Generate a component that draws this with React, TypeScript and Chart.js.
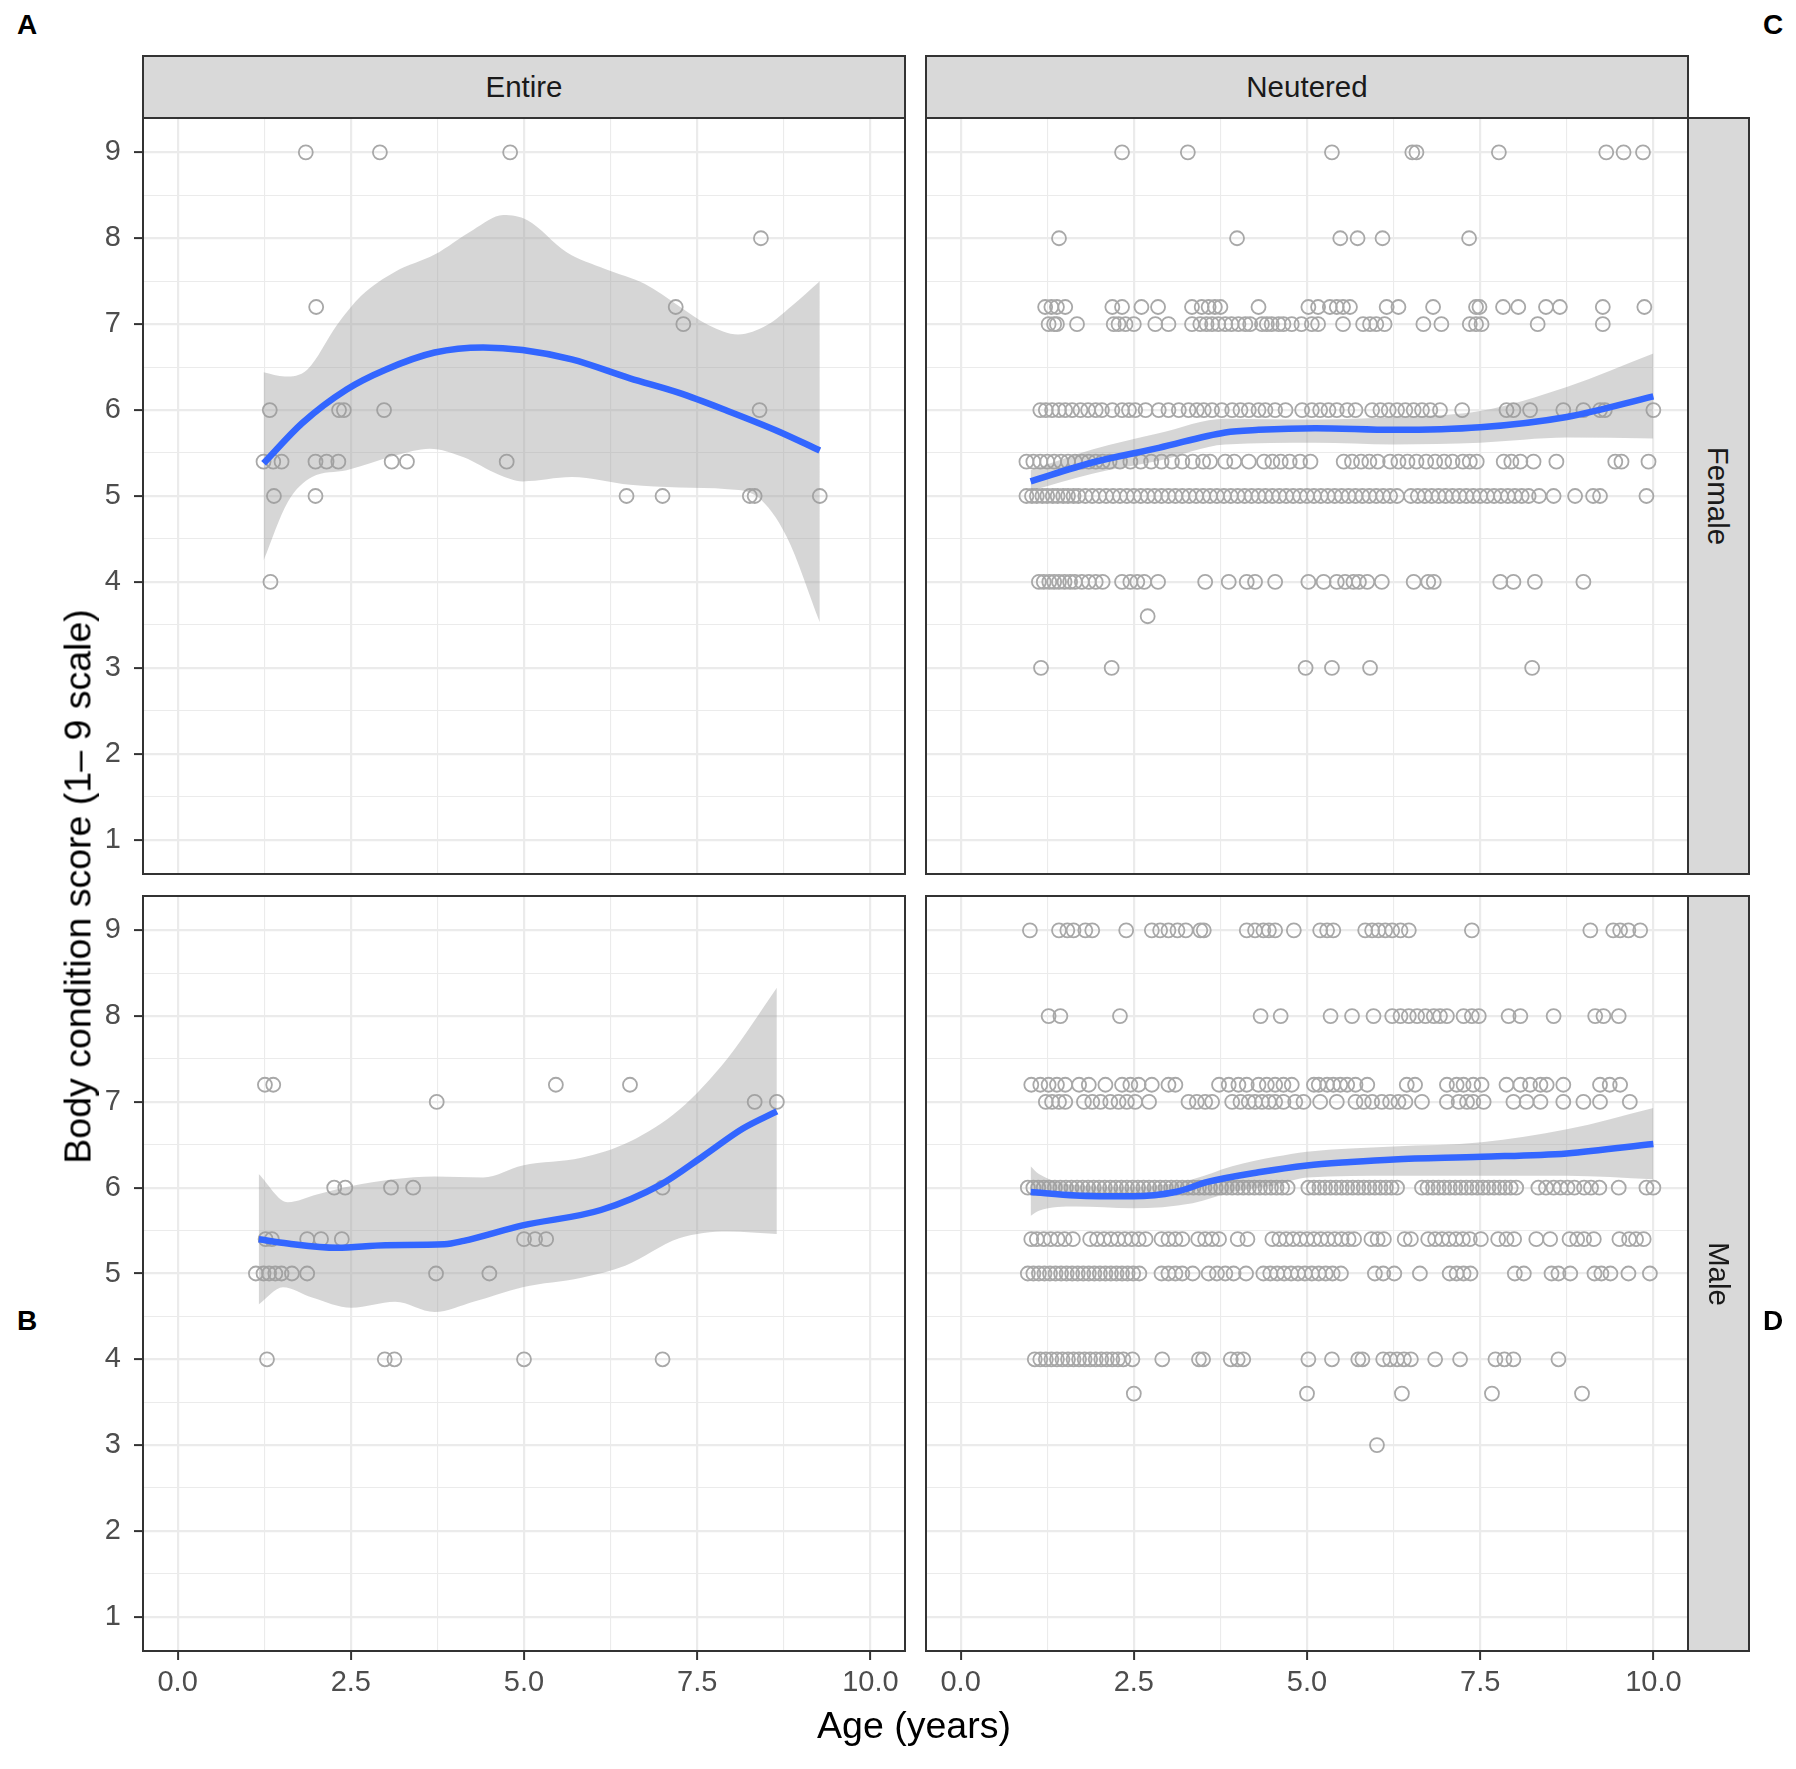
import React, { useEffect, useRef } from 'react';
import { Chart, registerables } from 'chart.js';

Chart.register(...registerables);

const FONT = '"Liberation Sans", Arial, Helvetica, sans-serif';

// facet labels
const columns = ['Entire', 'Neutered'];
const rowLabels = ['Female', 'Male'];

// axis breaks
const xMajor = [0, 2.5, 5, 7.5, 10];
const xMinor = [1.25, 3.75, 6.25, 8.75];
const yMajor = [1, 2, 3, 4, 5, 6, 7, 8, 9];
const yMinor = [1.5, 2.5, 3.5, 4.5, 5.5, 6.5, 7.5, 8.5];

type Row = [number, number[]]; // [score, ages]
type Pt = [number, number]; // [age, score]

// ---- Entire / Female ----
const entireFemalePts: Row[] = [
  [9, [1.85, 2.92, 4.8]],
  [8, [8.42]],
  [7.2, [2.0, 7.19]],
  [7, [7.3]],
  [6, [1.33, 2.33, 2.4, 2.98, 8.4]],
  [5.4, [1.24, 1.38, 1.5, 1.99, 2.15, 2.32, 3.09, 3.31, 4.75]],
  [5, [1.39, 1.99, 6.48, 7.0, 8.26, 8.33, 9.27]],
  [4, [1.34]],
];
const entireFemaleFit: Pt[] = [
  [1.24, 5.38], [1.8, 5.85], [2.44, 6.24], [3.0, 6.47], [3.71, 6.67], [4.41, 6.73], [4.98, 6.7],
  [5.69, 6.59], [6.53, 6.37], [7.24, 6.2], [7.94, 5.99], [8.65, 5.76], [9.27, 5.53],
];
const entireFemaleHi: Pt[] = [
  [1.24, 6.44], [1.55, 6.39], [1.87, 6.47], [2.3, 6.99], [2.65, 7.33], [3.14, 7.61], [3.71, 7.81],
  [4.27, 8.1], [4.7, 8.27], [5.05, 8.21], [5.61, 7.84], [6.18, 7.64], [6.74, 7.47], [7.24, 7.21],
  [7.66, 6.99], [8.09, 6.88], [8.51, 6.99], [8.86, 7.21], [9.27, 7.5],
];
const entireFemaleLo: Pt[] = [
  [1.24, 4.25], [1.59, 4.93], [1.94, 5.22], [2.44, 5.3], [3.14, 5.47], [3.64, 5.55], [4.13, 5.45],
  [4.63, 5.25], [4.98, 5.17], [5.69, 5.22], [6.53, 5.13], [7.24, 5.1], [7.94, 5.08], [8.37, 4.99],
  [8.79, 4.53], [9.27, 3.53],
];

// ---- Neutered / Female ----
const neuteredFemalePts: Row[] = [
  [9, [2.33, 3.28, 5.36, 6.52, 6.58, 7.77, 9.32, 9.57, 9.85]],
  [8, [1.42, 3.99, 5.48, 5.73, 6.09, 7.34]],
  [7.2, [1.22, 1.31, 1.39, 1.51, 2.19, 2.33, 2.61, 2.85, 3.34, 3.48, 3.58, 3.67, 3.75, 4.3, 5.02,
    5.16, 5.33, 5.43, 5.52, 5.62, 6.15, 6.32, 6.82, 7.44, 7.49, 7.83, 8.05, 8.45, 8.65, 9.27, 9.87]],
  [7, [1.27, 1.35, 1.39, 1.68, 2.21, 2.28, 2.38, 2.5, 2.81, 3.0, 3.34, 3.46, 3.55, 3.63, 3.72, 3.82,
    3.91, 4.01, 4.11, 4.18, 4.35, 4.42, 4.49, 4.59, 4.66, 4.78, 4.92, 5.07, 5.16, 5.52, 5.81, 5.91,
    6.0, 6.12, 6.68, 6.94, 7.35, 7.44, 7.52, 8.33, 9.27]],
  [6, [1.15, 1.23, 1.32, 1.42, 1.51, 1.61, 1.73, 1.84, 1.95, 2.04, 2.19, 2.33, 2.43, 2.52, 2.67,
    2.86, 3.0, 3.15, 3.29, 3.41, 3.51, 3.63, 3.77, 3.92, 4.04, 4.16, 4.3, 4.4, 4.54, 4.69, 4.93,
    5.07, 5.19, 5.31, 5.43, 5.58, 5.7, 5.94, 6.06, 6.18, 6.3, 6.42, 6.54, 6.66, 6.78, 6.92, 7.24,
    7.88, 7.98, 8.22, 8.7, 8.99, 9.23, 9.3, 10.0]],
  [5.4, [0.95, 1.05, 1.15, 1.25, 1.35, 1.45, 1.55, 1.65, 1.75, 1.85, 1.95, 2.05, 2.15, 2.3, 2.45,
    2.6, 2.75, 2.9, 3.05, 3.2, 3.35, 3.5, 3.6, 3.82, 3.95, 4.16, 4.38, 4.5, 4.62, 4.75, 4.9, 5.05,
    5.53, 5.65, 5.78, 5.9, 6.02, 6.2, 6.32, 6.45, 6.58, 6.72, 6.85, 6.98, 7.1, 7.25, 7.35, 7.45,
    7.84, 7.95, 8.08, 8.27, 8.6, 9.45, 9.54, 9.93]],
  [5, [0.95, 1.03, 1.1, 1.18, 1.25, 1.33, 1.4, 1.48, 1.55, 1.63, 1.7, 1.8, 1.9, 2.0, 2.1, 2.2, 2.3,
    2.4, 2.5, 2.6, 2.7, 2.8, 2.9, 3.0, 3.1, 3.2, 3.3, 3.4, 3.5, 3.6, 3.7, 3.8, 3.9, 4.0, 4.1, 4.2,
    4.3, 4.4, 4.5, 4.6, 4.7, 4.8, 4.9, 5.0, 5.1, 5.2, 5.3, 5.4, 5.5, 5.6, 5.7, 5.8, 5.9, 6.0, 6.1,
    6.2, 6.3, 6.5, 6.6, 6.7, 6.8, 6.9, 7.0, 7.1, 7.2, 7.3, 7.4, 7.5, 7.6, 7.7, 7.8, 7.9, 8.0, 8.1,
    8.2, 8.35, 8.56, 8.87, 9.13, 9.23, 9.9]],
  [4, [1.13, 1.2, 1.28, 1.35, 1.42, 1.5, 1.58, 1.65, 1.75, 1.85, 1.95, 2.05, 2.33, 2.45, 2.55, 2.65,
    2.85, 3.53, 3.87, 4.13, 4.25, 4.54, 5.02, 5.24, 5.43, 5.55, 5.67, 5.75, 5.87, 6.08, 6.54, 6.75,
    6.83, 7.79, 7.98, 8.29, 8.99]],
  [3.6, [2.7]],
  [3, [1.16, 2.18, 4.98, 5.36, 5.91, 8.25]],
];
const neuteredFemaleFit: Pt[] = [
  [1.01, 5.17], [1.9, 5.39], [2.86, 5.56], [3.82, 5.74], [4.3, 5.77], [5.12, 5.79], [6.25, 5.77],
  [7.5, 5.8], [8.75, 5.92], [10.0, 6.16],
];
const neuteredFemaleHi: Pt[] = [
  [1.01, 5.3], [1.9, 5.54], [2.86, 5.73], [3.82, 5.9], [5.12, 5.89], [6.25, 5.92], [7.5, 5.99],
  [8.75, 6.27], [10.0, 6.66],
];
const neuteredFemaleLo: Pt[] = [
  [1.01, 5.06], [1.9, 5.26], [2.86, 5.41], [3.82, 5.6], [5.12, 5.62], [6.25, 5.6], [7.5, 5.62],
  [8.75, 5.68], [10.0, 5.67],
];

// ---- Entire / Male ----
const entireMalePts: Row[] = [
  [7.2, [1.26, 1.38, 5.46, 6.53]],
  [7, [3.74, 8.33, 8.65]],
  [6, [2.26, 2.42, 3.08, 3.4, 7.0]],
  [5.4, [1.27, 1.36, 1.87, 2.07, 2.37, 5.0, 5.16, 5.32]],
  [5, [1.13, 1.24, 1.32, 1.41, 1.5, 1.65, 1.87, 3.73, 4.5]],
  [4, [1.29, 2.99, 3.13, 5.0, 7.0]],
];
const entireMaleFit: Pt[] = [
  [1.17, 5.4], [1.59, 5.35], [2.3, 5.3], [3.0, 5.33], [3.85, 5.34], [4.13, 5.38], [4.98, 5.56],
  [6.11, 5.74], [6.96, 6.03], [7.59, 6.37], [8.16, 6.69], [8.65, 6.89],
];
const entireMaleHi: Pt[] = [
  [1.17, 6.16], [1.59, 5.83], [2.01, 5.92], [2.51, 6.02], [3.71, 6.13], [4.41, 6.12], [4.98, 6.26],
  [5.83, 6.35], [6.53, 6.54], [7.24, 6.91], [7.94, 7.51], [8.65, 8.33],
];
const entireMaleLo: Pt[] = [
  [1.17, 4.64], [1.52, 4.84], [1.94, 4.72], [2.51, 4.6], [3.14, 4.67], [3.71, 4.55], [4.27, 4.67],
  [4.98, 4.84], [5.83, 4.95], [6.46, 5.09], [7.24, 5.41], [7.94, 5.49], [8.65, 5.46],
];

// ---- Neutered / Male ----
const neuteredMalePts: Row[] = [
  [9, [1.0, 1.42, 1.54, 1.63, 1.8, 1.9, 2.39, 2.76, 2.88, 3.0, 3.13, 3.25, 3.46, 3.51, 4.13, 4.25,
    4.37, 4.45, 4.54, 4.81, 5.19, 5.29, 5.38, 5.84, 5.94, 6.03, 6.13, 6.23, 6.35, 6.47, 7.38, 9.09,
    9.42, 9.52, 9.64, 9.81]],
  [8, [1.27, 1.44, 2.3, 4.33, 4.62, 5.34, 5.65, 5.96, 6.23, 6.35, 6.47, 6.59, 6.71, 6.83, 6.92,
    7.02, 7.26, 7.38, 7.48, 7.91, 8.08, 8.56, 9.16, 9.28, 9.5]],
  [7.2, [1.02, 1.15, 1.27, 1.39, 1.51, 1.71, 1.85, 2.09, 2.33, 2.45, 2.57, 2.76, 3.0, 3.1, 3.73,
    3.87, 4.01, 4.13, 4.3, 4.42, 4.54, 4.66, 4.78, 5.1, 5.17, 5.29, 5.38, 5.48, 5.58, 5.7, 5.87,
    6.44, 6.56, 7.02, 7.16, 7.26, 7.4, 7.52, 7.88, 8.08, 8.22, 8.37, 8.46, 8.7, 9.23, 9.37, 9.52]],
  [7, [1.23, 1.32, 1.42, 1.51, 1.78, 1.9, 2.02, 2.16, 2.28, 2.4, 2.52, 2.72, 3.29, 3.41, 3.53,
    3.63, 3.92, 4.04, 4.16, 4.25, 4.35, 4.45, 4.54, 4.66, 4.83, 4.95, 5.19, 5.43, 5.7, 5.82, 5.94,
    6.08, 6.2, 6.32, 6.42, 6.66, 7.02, 7.19, 7.31, 7.4, 7.55, 7.98, 8.17, 8.37, 8.7, 8.99, 9.23,
    9.66]],
  [6, [0.97, 1.05, 1.12, 1.2, 1.28, 1.36, 1.44, 1.52, 1.6, 1.68, 1.76, 1.84, 1.92, 2.0, 2.08, 2.16,
    2.24, 2.32, 2.4, 2.48, 2.56, 2.64, 2.72, 2.8, 2.88, 2.96, 3.04, 3.12, 3.2, 3.28, 3.36, 3.44,
    3.52, 3.6, 3.68, 3.76, 3.84, 3.92, 4.0, 4.08, 4.16, 4.24, 4.32, 4.4, 4.48, 4.56, 4.64, 4.72,
    5.02, 5.1, 5.18, 5.26, 5.34, 5.42, 5.5, 5.58, 5.66, 5.74, 5.82, 5.9, 5.98, 6.06, 6.14, 6.22,
    6.3, 6.66, 6.74, 6.82, 6.9, 6.98, 7.06, 7.14, 7.22, 7.3, 7.38, 7.46, 7.54, 7.62, 7.7, 7.78,
    7.86, 7.94, 8.02, 8.34, 8.45, 8.56, 8.66, 8.76, 8.86, 9.0, 9.1, 9.22, 9.5, 9.9, 10.0]],
  [5.4, [1.02, 1.1, 1.2, 1.3, 1.4, 1.5, 1.62, 1.87, 1.97, 2.07, 2.17, 2.27, 2.37, 2.47, 2.57, 2.67,
    2.9, 3.0, 3.1, 3.2, 3.43, 3.53, 3.63, 3.73, 4.0, 4.14, 4.5, 4.6, 4.7, 4.8, 4.9, 5.0, 5.1, 5.2,
    5.3, 5.4, 5.5, 5.6, 5.68, 5.93, 6.02, 6.11, 6.41, 6.5, 6.75, 6.85, 6.95, 7.05, 7.15, 7.25,
    7.35, 7.51, 7.76, 7.88, 7.99, 8.31, 8.51, 8.79, 8.9, 9.0, 9.14, 9.51, 9.65, 9.75, 9.86]],
  [5, [0.97, 1.05, 1.13, 1.21, 1.29, 1.37, 1.45, 1.53, 1.61, 1.69, 1.77, 1.85, 1.93, 2.01, 2.09,
    2.17, 2.25, 2.33, 2.41, 2.49, 2.58, 2.9, 3.0, 3.1, 3.2, 3.35, 3.58, 3.7, 3.82, 3.94, 4.12,
    4.37, 4.47, 4.57, 4.67, 4.77, 4.87, 4.97, 5.07, 5.17, 5.27, 5.37, 5.49, 5.98, 6.1, 6.26, 6.63,
    7.06, 7.16, 7.26, 7.36, 8.0, 8.13, 8.53, 8.63, 8.8, 9.15, 9.25, 9.38, 9.64, 9.95]],
  [4, [1.07, 1.15, 1.23, 1.31, 1.39, 1.47, 1.55, 1.63, 1.71, 1.79, 1.87, 1.95, 2.03, 2.11, 2.19,
    2.27, 2.35, 2.48, 2.91, 3.44, 3.5, 3.9, 4.0, 4.08, 5.02, 5.36, 5.74, 5.8, 6.1, 6.2, 6.3, 6.4,
    6.5, 6.85, 7.21, 7.72, 7.85, 7.98, 8.63]],
  [3.6, [2.5, 5.0, 6.37, 7.67, 8.97]],
  [3, [6.01]],
];
const neuteredMaleFit: Pt[] = [
  [1.01, 5.95], [1.66, 5.91], [2.48, 5.9], [3.1, 5.95], [3.58, 6.07], [4.3, 6.18], [5.0, 6.26],
  [5.63, 6.3], [6.25, 6.33], [7.52, 6.36], [8.75, 6.4], [10.0, 6.51],
];
const neuteredMaleHi: Pt[] = [
  [1.01, 6.25], [1.13, 6.16], [1.66, 6.03], [2.48, 6.01], [3.35, 6.1], [3.92, 6.25], [4.54, 6.36],
  [5.0, 6.42], [6.25, 6.48], [7.52, 6.53], [8.75, 6.68], [10.0, 6.93],
];
const neuteredMaleLo: Pt[] = [
  [1.01, 5.67], [1.13, 5.73], [1.66, 5.78], [2.48, 5.76], [3.35, 5.82], [3.92, 5.95], [4.54, 6.03],
  [5.0, 6.12], [6.25, 6.14], [7.52, 6.14], [8.75, 6.14], [10.0, 6.1],
];

// panel rectangles (plot area, page pixels)
const colLeft = [143, 926];
const colRight = [905, 1688];
const rowTop = [118, 896];
const rowBottom = [874, 1651];
const Y_AXIS_W = 103;
const X_AXIS_H = 60;

const panelBorder = {
  id: 'panelBorder',
  afterDraw(chart: Chart) {
    const { ctx, chartArea: a } = chart;
    ctx.save();
    ctx.strokeStyle = '#333333';
    ctx.lineWidth = 2;
    ctx.strokeRect(a.left, a.top, a.right - a.left, a.bottom - a.top);
    ctx.restore();
  },
};

interface PanelProps {
  rows: Row[];
  fit: Pt[];
  lo: Pt[];
  hi: Pt[];
  col: number;
  row: number;
}

function Panel({ rows, fit, lo, hi, col, row }: PanelProps) {
  const chartRef = useRef<HTMLCanvasElement>(null);
  const showY = col === 0;
  const showX = row === 1;

  const left = showY ? colLeft[col] - Y_AXIS_W : colLeft[col] - 2;
  const top = rowTop[row] - 2;
  const width = colRight[col] + 2 - left;
  const height = rowBottom[row] - top + (showX ? X_AXIS_H : 2);

  useEffect(() => {
    if (!chartRef.current) return;
    const ctx = chartRef.current.getContext('2d');
    if (!ctx) return;

    const toXY = (arr: Pt[]) => arr.map(([x, y]) => ({ x, y }));
    const points = rows.flatMap(([score, ages]) => ages.map((a) => ({ x: a, y: score })));
    const xTicks = [...xMajor, ...xMinor].sort((a, b) => a - b);
    const yTicks = [...yMajor, ...yMinor].sort((a, b) => a - b);
    const isMajorX = (v: number) => xMajor.includes(v);
    const isMajorY = (v: number) => yMajor.includes(v);
    const noPad = (s: any) => {
      s.paddingLeft = 0;
      s.paddingRight = 0;
      s.paddingTop = 0;
      s.paddingBottom = 0;
    };

    const chart = new Chart(ctx, {
      type: 'line',
      data: {
        datasets: [
          {
            data: toXY(fit),
            borderColor: '#3366FF',
            borderWidth: 6.5,
            pointRadius: 0,
            cubicInterpolationMode: 'monotone',
            fill: false,
          },
          {
            data: toXY(hi),
            borderColor: 'rgba(0,0,0,0)',
            borderWidth: 1,
            pointRadius: 0,
            cubicInterpolationMode: 'monotone',
            fill: false,
          },
          {
            data: toXY(lo),
            borderColor: 'rgba(0,0,0,0)',
            borderWidth: 1,
            pointRadius: 0,
            cubicInterpolationMode: 'monotone',
            fill: '-1',
            backgroundColor: 'rgba(153,153,153,0.4)',
          },
          {
            data: points,
            showLine: false,
            pointRadius: 7,
            pointHoverRadius: 7,
            pointBorderWidth: 1.8,
            pointBorderColor: '#a8a8a8',
            pointBackgroundColor: 'rgba(0,0,0,0)',
          },
        ],
      } as any,
      options: {
        animation: false,
        responsive: true,
        maintainAspectRatio: false,
        events: [],
        layout: {
          autoPadding: false,
          padding: { left: showY ? 0 : 2, right: 2, top: 2, bottom: showX ? 0 : 2 },
        },
        plugins: { legend: { display: false }, tooltip: { enabled: false } },
        scales: {
          x: {
            type: 'linear',
            min: -0.5,
            max: 10.5,
            afterBuildTicks: (s: any) => {
              s.ticks = xTicks.map((v) => ({ value: v }));
            },
            afterFit: (s: any) => {
              s.height = showX ? X_AXIS_H : 0;
              noPad(s);
            },
            border: { display: false },
            grid: {
              color: '#ebebeb',
              lineWidth: (c: any) => (isMajorX(c.tick?.value) ? 2.2 : 1.1),
              drawTicks: showX,
              tickLength: 9,
              tickWidth: 2,
              tickColor: (c: any) => (isMajorX(c.tick?.value) ? '#333333' : 'rgba(0,0,0,0)'),
            },
            ticks: {
              display: showX,
              autoSkip: false,
              maxRotation: 0,
              padding: 6,
              color: '#4d4d4d',
              font: { family: FONT, size: 29 },
              callback: (v: any) => (isMajorX(Number(v)) ? Number(v).toFixed(1) : ''),
            },
          },
          y: {
            type: 'linear',
            min: 0.6,
            max: 9.4,
            afterBuildTicks: (s: any) => {
              s.ticks = yTicks.map((v) => ({ value: v }));
            },
            afterFit: (s: any) => {
              s.width = showY ? Y_AXIS_W : 0;
              noPad(s);
            },
            border: { display: false },
            grid: {
              color: '#ebebeb',
              lineWidth: (c: any) => (isMajorY(c.tick?.value) ? 2.2 : 1.1),
              drawTicks: showY,
              tickLength: 9,
              tickWidth: 2,
              tickColor: (c: any) => (isMajorY(c.tick?.value) ? '#333333' : 'rgba(0,0,0,0)'),
            },
            ticks: {
              display: showY,
              autoSkip: false,
              padding: 13,
              color: '#4d4d4d',
              font: { family: FONT, size: 29 },
              callback: (v: any) => (isMajorY(Number(v)) ? String(v) : ''),
            },
          },
        },
      } as any,
      plugins: [panelBorder],
    });

    return () => {
      chart.destroy();
    };
  }, [rows, fit, lo, hi, showX, showY]);

  return (
    <div style={{ position: 'absolute', left, top, width, height }}>
      <canvas ref={chartRef} />
    </div>
  );
}

const stripStyle: React.CSSProperties = {
  position: 'absolute',
  boxSizing: 'border-box',
  border: '2px solid #333333',
  background: '#d9d9d9',
  display: 'flex',
  alignItems: 'center',
  justifyContent: 'center',
  fontFamily: FONT,
  fontSize: 29.5,
  color: '#1a1a1a',
};

const letterStyle: React.CSSProperties = {
  position: 'absolute',
  fontFamily: FONT,
  fontWeight: 'bold',
  fontSize: 28,
  lineHeight: '28px',
  color: '#000',
};

export default function App() {
  const panels = [
    { rows: entireFemalePts, fit: entireFemaleFit, lo: entireFemaleLo, hi: entireFemaleHi, col: 0, row: 0 },
    { rows: neuteredFemalePts, fit: neuteredFemaleFit, lo: neuteredFemaleLo, hi: neuteredFemaleHi, col: 1, row: 0 },
    { rows: entireMalePts, fit: entireMaleFit, lo: entireMaleLo, hi: entireMaleHi, col: 0, row: 1 },
    { rows: neuteredMalePts, fit: neuteredMaleFit, lo: neuteredMaleLo, hi: neuteredMaleHi, col: 1, row: 1 },
  ];

  return (
    <div style={{ position: 'absolute', left: 0, top: 0, width: 1796, height: 1769, background: '#fff', overflow: 'hidden' }}>
      {panels.map((p) => (
        <Panel key={`${p.col}-${p.row}`} {...p} />
      ))}

      {columns.map((c, i) => (
        <div
          key={c}
          style={{ ...stripStyle, left: colLeft[i] - 1, top: 55, width: colRight[i] - colLeft[i] + 2, height: rowTop[0] - 55 + 1 }}
        >
          {c}
        </div>
      ))}

      {rowLabels.map((r, i) => (
        <div
          key={r}
          style={{ ...stripStyle, left: colRight[1] - 1, top: rowTop[i] - 1, width: 63, height: rowBottom[i] - rowTop[i] + 2 }}
        >
          <span style={{ display: 'inline-block', transform: 'rotate(90deg)', whiteSpace: 'nowrap' }}>{r}</span>
        </div>
      ))}

      <div
        style={{
          position: 'absolute',
          left: 514,
          top: 1707,
          width: 800,
          textAlign: 'center',
          fontFamily: FONT,
          fontSize: 37.5,
          lineHeight: '37px',
          color: '#000',
        }}
      >
        Age (years)
      </div>
      <div
        style={{
          position: 'absolute',
          left: 78 - 400,
          top: 886 - 18,
          width: 800,
          height: 37,
          textAlign: 'center',
          fontFamily: FONT,
          fontSize: 37.5,
          lineHeight: '37px',
          color: '#000',
          transform: 'rotate(-90deg)',
          whiteSpace: 'nowrap',
        }}
      >
        Body condition score (1– 9 scale)
      </div>

      <div style={{ ...letterStyle, left: 17, top: 11 }}>A</div>
      <div style={{ ...letterStyle, left: 1763, top: 11 }}>C</div>
      <div style={{ ...letterStyle, left: 17, top: 1307 }}>B</div>
      <div style={{ ...letterStyle, left: 1763, top: 1307 }}>D</div>
    </div>
  );
}
